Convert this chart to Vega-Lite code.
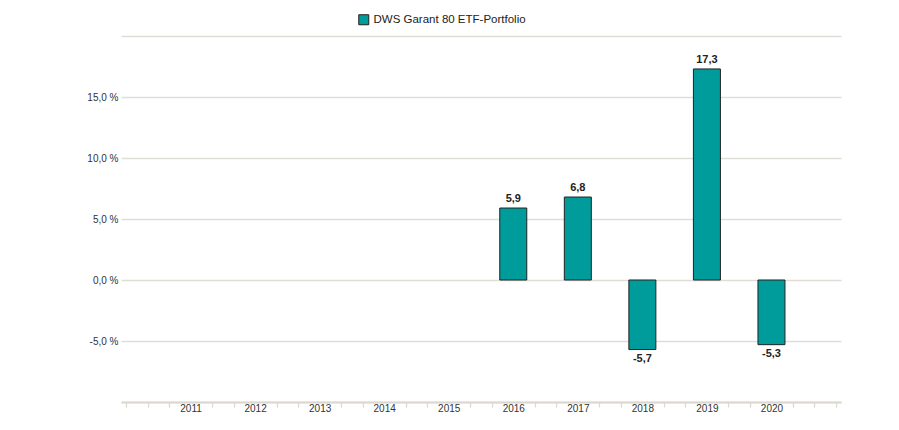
{
  "$schema": "https://vega.github.io/schema/vega-lite/v6.json",
  "autosize": "none",
  "width": 720,
  "height": 366,
  "padding": {"left": 121, "top": 36, "right": 58, "bottom": 28},
  "background": "white",
  "config": {
    "view": {"stroke": null},
    "font": "Liberation Sans",
    "locale": {"number": {"decimal": ",", "thousands": ".", "grouping": [3], "currency": ["", " €"], "minus": "-"}}
  },
  "data": {
    "values": [
      {"year": 2016, "value": 5.9},
      {"year": 2017, "value": 6.8},
      {"year": 2018, "value": -5.7},
      {"year": 2019, "value": 17.3},
      {"year": 2020, "value": -5.3}
    ]
  },
  "encoding": {
    "x": {
      "field": "year", "type": "quantitative",
      "scale": {"domain": [2010, 2021], "nice": false, "zero": false},
      "axis": {
        "title": null,
        "grid": false,
        "values": [2010, 2010.3333, 2010.6667, 2011, 2011.3333, 2011.6667, 2012, 2012.3333, 2012.6667, 2013, 2013.3333, 2013.6667, 2014, 2014.3333, 2014.6667, 2015, 2015.3333, 2015.6667, 2016, 2016.3333, 2016.6667, 2017, 2017.3333, 2017.6667, 2018, 2018.3333, 2018.6667, 2019, 2019.3333, 2019.6667, 2020, 2020.3333, 2020.6667, 2021],
        "labelExpr": "(datum.value % 1 == 0 && datum.value > 2010 && datum.value < 2021) ? toString(datum.value) : ''",
        "labelOverlap": false,
        "labelFlush": false,
        "labelFontSize": 10,
        "labelColor": "#333333",
        "labelPadding": -4,
        "domainColor": "#dcd8cf",
        "domainWidth": 2,
        "tickColor": "#dcd8cf",
        "tickWidth": 1.2,
        "tickSize": 5,
        "tickOpacity": {"condition": {"test": "datum.value % 1 == 0 && datum.value > 2010 && datum.value < 2021", "value": 0}, "value": 1}
      }
    },
    "y": {
      "field": "value", "type": "quantitative",
      "scale": {"domain": [-10, 20], "nice": false},
      "axis": {
        "title": null,
        "values": [-10, -5, 0, 5, 10, 15, 20],
        "format": ".1f",
        "labelExpr": "(datum.value > -10 && datum.value < 20) ? datum.label + ' %' : ''",
        "domain": false,
        "ticks": false,
        "labelPadding": 3,
        "labelFontSize": 10,
        "labelColor": "#333333",
        "gridColor": "#e0ddd6",
        "gridWidth": 1.5
      }
    }
  },
  "layer": [
    {
      "mark": {"type": "bar", "size": 27, "stroke": "#222222", "strokeWidth": 1},
      "encoding": {
        "color": {
          "datum": "DWS Garant 80 ETF-Portfolio",
          "type": "nominal",
          "scale": {"range": ["#009c9c"]},
          "legend": {
            "title": null,
            "orient": "none",
            "legendX": 237,
            "legendY": -22,
            "padding": 0,
            "symbolType": "square",
            "symbolSize": 100,
            "symbolStrokeColor": "#222222",
            "symbolStrokeWidth": 1,
            "labelFontSize": 11.5,
            "labelColor": "#222222",
            "labelOffset": 4
          }
        }
      }
    },
    {
      "transform": [{"filter": "datum.value >= 0"}],
      "mark": {"type": "text", "baseline": "bottom", "dy": -4, "fontSize": 11, "fontWeight": "bold", "color": "#222222"},
      "encoding": {"text": {"field": "value", "type": "quantitative", "format": ".1f"}}
    },
    {
      "transform": [{"filter": "datum.value < 0"}],
      "mark": {"type": "text", "baseline": "top", "dy": 3, "fontSize": 11, "fontWeight": "bold", "color": "#222222"},
      "encoding": {"text": {"field": "value", "type": "quantitative", "format": ".1f"}}
    }
  ]
}
